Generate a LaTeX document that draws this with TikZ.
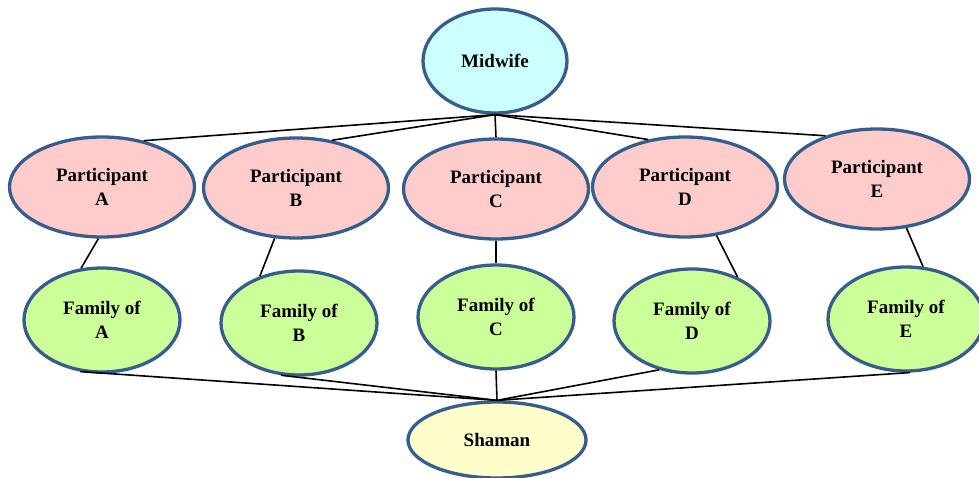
\documentclass[tikz,border=0pt]{standalone}
\usepackage{fontspec}
\setmainfont{Liberation Serif}
\usetikzlibrary{shapes.geometric}

\definecolor{rim}{RGB}{56,93,138}
\definecolor{midfill}{RGB}{204,255,255}
\definecolor{partfill}{RGB}{255,204,204}
\definecolor{famfill}{RGB}{204,255,153}
\definecolor{shamfill}{RGB}{255,255,204}

\begin{document}
\begin{tikzpicture}[x=1pt, y=-1pt, font=\fontsize{19}{24}\selectfont\bfseries,
  oval/.style={ellipse, draw=rim, line width=3.3pt, inner sep=0pt, align=center},
  midwife/.style={oval, fill=midfill, minimum width=144, minimum height=104},
  part/.style={oval, fill=partfill, minimum width=185, minimum height=100},
  family/.style={oval, fill=famfill, minimum width=156, minimum height=104},
  shaman/.style={oval, fill=shamfill, minimum width=178, minimum height=76},
  link/.style={draw=black, line width=1.6pt},
]
\useasboundingbox (0,0) rectangle (979,478);

\node[midwife] (mid) at (495,61) {Midwife};

\node[part] (pA) at (102,187) {Participant\\A};
\node[part] (pB) at (296,188) {Participant\\B};
\node[part] (pC) at (496,189) {Participant\\C};
\node[part] (pD) at (685,187) {Participant\\D};
\node[part] (pE) at (877,179) {Participant\\E};

\node[family] (fA) at (102,320) {Family of\\A};
\node[family] (fB) at (299,323) {Family of\\B};
\node[family] (fC) at (496,317) {Family of\\C};
\node[family] (fD) at (692,321) {Family of\\D};
\node[family] (fE) at (906,319) {Family of\\E};

\node[shaman] (sham) at (497,440) {Shaman};

% midwife to participants
\draw[link] (mid.south) -- (pA.48);
\draw[link] (mid.south) -- (pB.53);
\draw[link] (mid.south) -- (pC.north);
\draw[link] (mid.south) -- (pD.128);
\draw[link] (mid.south) -- (pE.140);

% participants to families
\draw[link] (pA.266) -- (fA.112);
\draw[link] (pB.247) -- (fB.130);
\draw[link] (pC.south) -- (fC.north);
\draw[link] (pD.303) -- (fD.44);
\draw[link] (pE.301) -- (fE.72);

% families to shaman
\draw[link] (fA.247) -- (sham.north);
\draw[link] (fB.251) -- (sham.north);
\draw[link] (fC.south) -- (sham.north);
\draw[link] (fD.236) -- (sham.north);
\draw[link] (fE.274) -- (sham.north);
\end{tikzpicture}
\end{document}
